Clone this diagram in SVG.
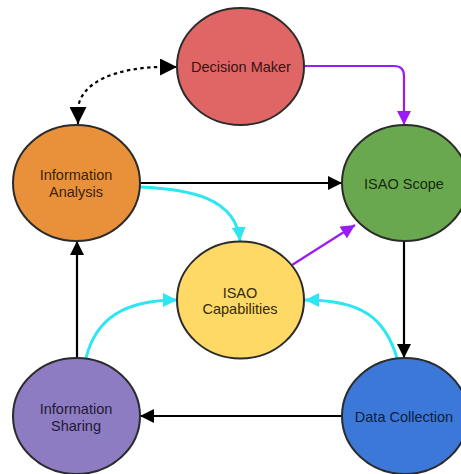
<svg xmlns="http://www.w3.org/2000/svg" width="461" height="474" viewBox="0 0 461 474">
<defs>
<marker id="ab" viewBox="0 0 14 14" refX="14" refY="7" markerWidth="14" markerHeight="14" markerUnits="userSpaceOnUse" orient="auto-start-reverse"><path d="M0,0 L14,7 L0,14 Z" fill="#000"/></marker>
<marker id="ad" viewBox="0 0 17 17" refX="17" refY="8.5" markerWidth="17" markerHeight="17" markerUnits="userSpaceOnUse" orient="auto-start-reverse"><path d="M0,0 L17,8.5 L0,17 Z" fill="#000"/></marker>
<marker id="ac" viewBox="0 0 14 14" refX="14" refY="7" markerWidth="14" markerHeight="14" markerUnits="userSpaceOnUse" orient="auto"><path d="M0,0 L14,7 L0,14 Z" fill="#2ee6f2"/></marker>
<marker id="ap" viewBox="0 0 14 14" refX="14" refY="7" markerWidth="14" markerHeight="14" markerUnits="userSpaceOnUse" orient="auto"><path d="M0,0 L14,7 L0,14 Z" fill="#9a1cf5"/></marker>
</defs>
<style>
.n{stroke:#2b2b2b;stroke-width:2}
.t{font-family:"Liberation Sans",Arial,sans-serif;font-size:14.5px;text-anchor:middle}
.c{fill:none;stroke-width:2.2}
.k{stroke:#000;marker-end:url(#ab)}
.cy{stroke:#2ee6f2;stroke-width:3;marker-end:url(#ac)}
.pu{stroke:#9a1cf5;marker-end:url(#ap)}
</style>
<rect width="461" height="474" fill="#fff"/>
<g id="connectors">
<path class="c" d="M78 124 L78 110 C79 82,118 67,163 67 L177 67" stroke="#000" stroke-width="3.6" stroke-dasharray="3.4 3.4" marker-start="url(#ad)" marker-end="url(#ad)"/>
<path class="c pu" d="M304 66 H394 Q404 66 404 76 V125"/>
<path class="c k" d="M140 183 H342"/>
<path class="c cy" d="M140 187 C190 189,236 198,240 241"/>
<path class="c pu" d="M292 265 L355 225"/>
<path class="c k" d="M404 241 V358"/>
<path class="c cy" d="M397 358 C385 318,362 300,305 300"/>
<path class="c cy" d="M86 358 C96 318,125 300,177 300"/>
<path class="c k" d="M77 358 V241"/>
<path class="c k" d="M342 416 H140"/>
</g>
<g id="decision-maker">
<ellipse class="n" cx="240.5" cy="66.5" rx="63.5" ry="58.5" fill="#e06666"/>
<text class="t" x="241" y="72" fill="#3a1212">Decision Maker</text>
</g>
<g id="information-analysis">
<ellipse class="n" cx="76.5" cy="183" rx="63.5" ry="58" fill="#e8913a"/>
<text class="t" x="76" y="180" fill="#3d220a">Information</text>
<text class="t" x="76" y="197" fill="#3d220a">Analysis</text>
</g>
<g id="isao-scope">
<ellipse class="n" cx="405" cy="183" rx="63" ry="58" fill="#6aa84f"/>
<text class="t" x="404" y="189" fill="#162a0e">ISAO Scope</text>
</g>
<g id="isao-capabilities">
<ellipse class="n" cx="240.5" cy="300" rx="63.5" ry="58.5" fill="#ffd966"/>
<text class="t" x="240" y="298" fill="#33290c">ISAO</text>
<text class="t" x="240" y="314" fill="#33290c">Capabilities</text>
</g>
<g id="information-sharing">
<ellipse class="n" cx="76.5" cy="416" rx="63.5" ry="58" fill="#8e7cc3"/>
<text class="t" x="76" y="414" fill="#1f1a33">Information</text>
<text class="t" x="76" y="431" fill="#1f1a33">Sharing</text>
</g>
<g id="data-collection">
<ellipse class="n" cx="405" cy="416" rx="63" ry="58" fill="#3c78d8"/>
<text class="t" x="404" y="422" fill="#0d1e3d">Data Collection</text>
</g>
</svg>
